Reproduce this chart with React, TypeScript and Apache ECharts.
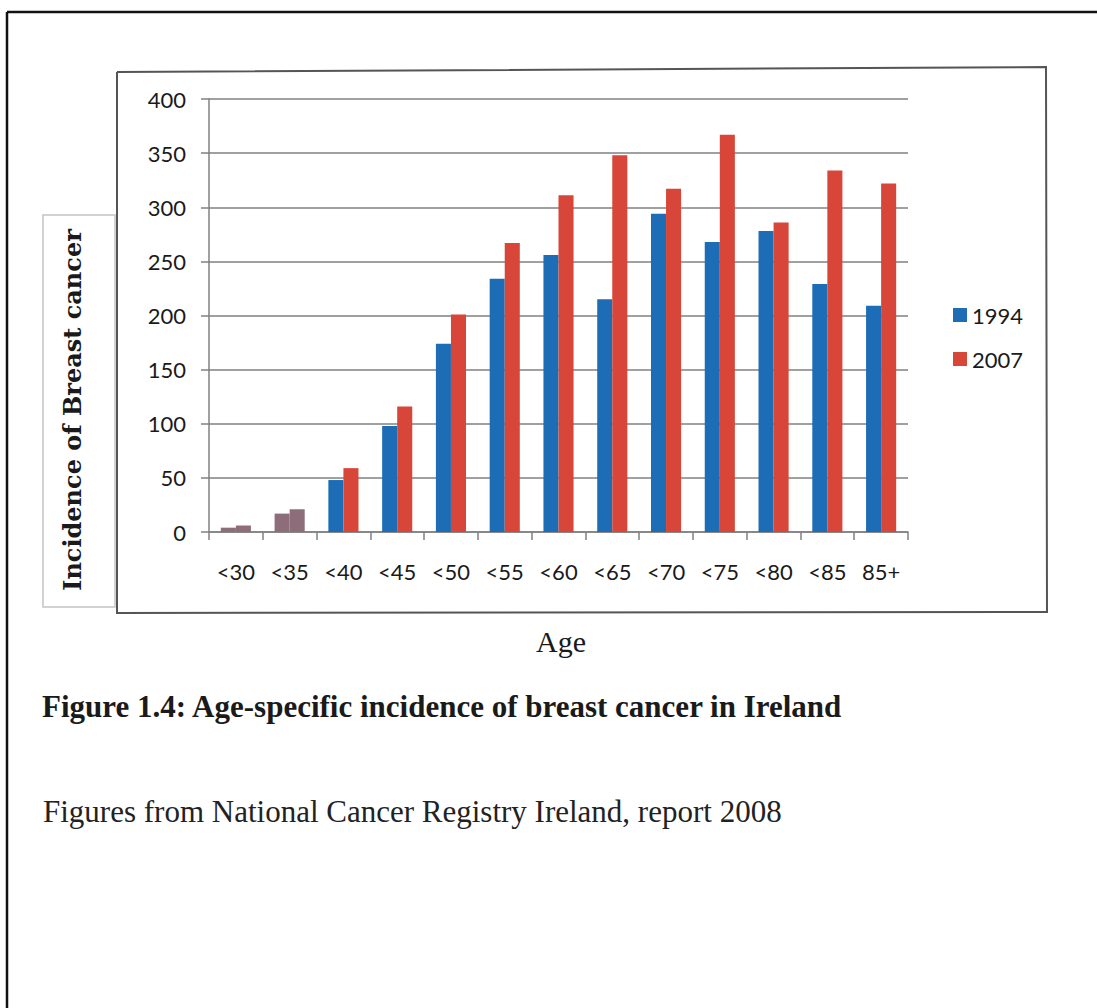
import React, { useEffect, useRef } from "react";
import * as echarts from "echarts";

// Age bands and breast cancer incidence per band, Ireland
const ageBands = ["<30", "<35", "<40", "<45", "<50", "<55", "<60", "<65", "<70", "<75", "<80", "<85", "85+"];
const incidence1994 = [4, 17, 48, 98, 174, 234, 256, 215, 294, 268, 278, 229, 209];
const incidence2007 = [6, 21, 59, 116, 201, 267, 311, 348, 317, 367, 286, 334, 322];
const yTicks = [0, 50, 100, 150, 200, 250, 300, 350, 400];
// Bands whose bars carry a muted mauve tint in the printed figure
const tintedBands = ["<30", "<35"];

const BLUE = "#1d6db6";
const RED = "#d8463a";
const MAUVE = "#8e6d7b";
const SANS = "Lato, 'Open Sans', sans-serif";
const SERIF = "'Liberation Serif', 'Times New Roman', serif";

function barData(values: number[]) {
  return values.map((v, i) =>
    tintedBands.includes(ageBands[i]) ? { value: v, itemStyle: { color: MAUVE } } : v
  );
}

export default function App() {
  const ref = useRef<HTMLDivElement>(null);

  useEffect(() => {
    if (!ref.current) return;
    const chart = echarts.init(ref.current, null, { renderer: "svg" });
    chart.setOption({
      animation: false,
      backgroundColor: "#ffffff",
      grid: { left: 209, right: 189, top: 99, bottom: 476, containLabel: false },
      legend: {
        orient: "vertical",
        left: 948,
        top: 299,
        itemWidth: 14,
        itemHeight: 14,
        itemGap: 22,
        icon: "rect",
        selectedMode: false,
        textStyle: { fontFamily: SANS, fontSize: 22, color: "#1a1a1a", lineHeight: 22 },
        data: ["1994", "2007"],
      },
      xAxis: {
        type: "category",
        data: ageBands,
        axisLine: { show: true, lineStyle: { color: "#808080", width: 1.5 } },
        axisTick: { show: true, length: 8, lineStyle: { color: "#808080", width: 1.5 } },
        axisLabel: { fontFamily: SANS, fontSize: 22, color: "#1a1a1a", margin: 28 },
      },
      yAxis: {
        type: "value",
        min: yTicks[0],
        max: yTicks[yTicks.length - 1],
        interval: yTicks[1] - yTicks[0],
        axisLine: { show: true, lineStyle: { color: "#808080", width: 1.5 } },
        axisTick: { show: true, length: 8, lineStyle: { color: "#808080", width: 1.5 } },
        axisLabel: { fontFamily: SANS, fontSize: 22, color: "#1a1a1a", margin: 23 },
        splitLine: { show: true, lineStyle: { color: "#808080", width: 1.5 } },
      },
      series: [
        {
          name: "1994",
          type: "bar",
          data: barData(incidence1994),
          itemStyle: { color: BLUE },
          barGap: "0%",
          barCategoryGap: "44%",
        },
        {
          name: "2007",
          type: "bar",
          data: barData(incidence2007),
          itemStyle: { color: RED },
          barGap: "0%",
          barCategoryGap: "44%",
        },
      ],
      graphic: [
        // page border
        { type: "line", shape: { x1: 7, y1: 12, x2: 1100, y2: 12 }, style: { stroke: "#111", lineWidth: 2.5 } },
        { type: "line", shape: { x1: 7, y1: 12, x2: 7, y2: 1010 }, style: { stroke: "#111", lineWidth: 2.5 } },
        // chart frame
        {
          type: "polyline",
          shape: { points: [[117, 72], [1046, 67], [1047, 612], [117, 613], [117, 72]] },
          style: { stroke: "#555", lineWidth: 2, fill: null },
        },
        // y-axis title box
        { type: "rect", shape: { x: 43, y: 215, width: 72, height: 392 }, style: { stroke: "#c4c4c4", lineWidth: 1.5, fill: "#fff" } },
        {
          type: "text",
          x: 72,
          y: 410,
          rotation: Math.PI / 2,
          style: {
            text: "Incidence of Breast cancer",
            fontFamily: "'DejaVu Serif', serif",
            fontWeight: "bold",
            fontSize: 24,
            fill: "#1a1a1a",
            align: "center",
            verticalAlign: "middle",
          },
        },
        {
          type: "text",
          x: 561,
          y: 641,
          style: { text: "Age", fontFamily: SERIF, fontSize: 30, fill: "#1a1a1a", align: "center", verticalAlign: "middle" },
        },
        {
          type: "text",
          x: 42,
          y: 706,
          style: {
            text: "Figure 1.4: Age-specific incidence of breast cancer in Ireland",
            fontFamily: SERIF,
            fontWeight: "bold",
            fontSize: 31,
            fill: "#1a1a1a",
            align: "left",
            verticalAlign: "middle",
          },
        },
        {
          type: "text",
          x: 43,
          y: 811,
          style: {
            text: "Figures from National Cancer Registry Ireland, report 2008",
            fontFamily: SERIF,
            fontSize: 31,
            fill: "#222",
            align: "left",
            verticalAlign: "middle",
          },
        },
      ],
    });
    return () => chart.dispose();
  }, []);

  return (
    <div
      ref={ref}
      style={{ position: "absolute", left: 0, top: 0, width: 1097, height: 1008, background: "#fff" }}
    />
  );
}
